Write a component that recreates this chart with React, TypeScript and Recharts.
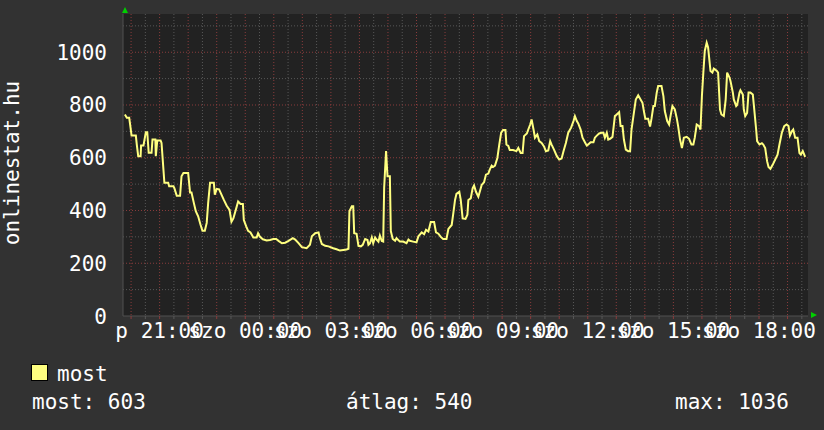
import React from 'react';
import { LineChart, Line, XAxis, YAxis, CartesianGrid } from 'recharts';

const FONT = '"DejaVu Sans Mono", "Liberation Mono", monospace';
const FONT_SIZE = 21;

// minutes since the start of the 24h window (window starts 19:43, Friday)
const timeMinutes = [
  4, 8, 13, 15, 18, 27, 29, 32, 37, 38, 43, 44, 48, 51, 54, 60, 62, 68, 69, 72,
  79, 81, 87, 95, 97, 106, 108, 113, 120, 123, 127, 137, 141, 144, 149, 153, 158, 163, 167, 172,
  176, 179, 183, 191, 193, 197, 202, 207, 212, 218, 224, 228, 232, 238, 242, 247, 252, 254, 259, 263,
  268, 274, 281, 284, 288, 294, 302, 309, 316, 322, 327, 334, 341, 348, 357, 362, 369, 376, 386, 393,
  397, 404, 411, 414, 418, 425, 432, 442, 449, 456, 463, 470, 474, 476, 481, 484, 486, 491, 495, 500,
  504, 509, 514, 516, 519, 523, 526, 530, 533, 537, 540, 544, 547, 549, 553, 556, 561, 563, 567, 572,
  575, 582, 589, 596, 600, 603, 610, 617, 621, 628, 633, 637, 642, 647, 654, 658, 663, 668, 673, 680,
  684, 691, 694, 698, 701, 707,
  710, 714, 720, 724, 726, 731, 735, 738, 742, 747, 750, 754, 759, 763, 768, 771, 775, 778, 782, 787,
  791, 795, 799, 804, 806, 810, 813, 820, 827, 831, 836, 840, 843, 849, 852, 856, 859, 863, 866, 871,
  875, 880, 885, 889, 894, 898, 901, 906, 912, 917, 922, 926, 931, 936, 942, 947, 950, 954, 957, 962,
  966, 971, 975, 978, 983, 989, 992, 996, 1001, 1006, 1010, 1013, 1017, 1020, 1024, 1029, 1034, 1038, 1043, 1046,
  1050, 1053, 1057, 1062, 1066, 1069, 1073, 1078, 1083, 1088, 1092, 1095, 1098, 1104, 1108, 1111, 1115, 1118, 1122, 1125,
  1132, 1136, 1139, 1144, 1148, 1151, 1155, 1160, 1164, 1167, 1171, 1175, 1179, 1185, 1190, 1195, 1199, 1202, 1206, 1211,
  1214, 1217, 1220, 1223, 1227, 1230, 1235, 1239, 1242, 1248, 1251, 1255, 1258, 1263, 1267, 1270, 1275, 1277, 1282, 1284,
  1289, 1291, 1296, 1298, 1303, 1305, 1308, 1312, 1315, 1319, 1324, 1326, 1331, 1333, 1338, 1343, 1346, 1350, 1354, 1357,
  1361, 1366, 1371, 1376, 1380, 1385, 1390, 1395, 1399, 1402, 1406, 1409, 1413, 1418, 1422, 1425, 1429, 1434,
];

const visitors = [
  764, 752, 752, 726, 684, 684, 650, 606, 606, 646, 646, 656, 697, 697, 619, 619, 669, 669, 606, 665,
  665, 656, 505, 505, 492, 492, 485, 456, 456, 530, 542, 542, 468, 468, 428, 397, 378, 346, 323, 323,
  353, 428, 505, 505, 460, 482, 480, 460, 440, 418, 402, 357, 370, 408, 434, 425, 425, 364, 340, 323,
  317, 298, 298, 314, 300, 291, 286, 288, 292, 292, 285, 276, 278, 285, 295, 290, 276, 261, 257, 270,
  302, 314, 317, 295, 273, 266, 264, 257, 253, 248, 250, 252, 255, 397, 416, 416, 314, 312, 266, 264,
  270, 292, 288, 270, 275, 298, 276, 298, 290, 282, 305, 284, 282, 486, 625, 530, 530, 322, 292, 285,
  295, 282, 282, 276, 290, 285, 282, 279, 302, 317, 310, 327, 320, 356, 356, 317, 312, 300, 292, 292,
  330, 345, 384, 440, 463, 471,
  440, 370, 368, 384, 440, 446, 484, 495, 471, 452, 471, 497, 507, 536, 540, 555, 570, 565, 570, 599,
  650, 695, 705, 705, 650, 645, 629, 629, 625, 637, 618, 618, 682, 692, 707, 726, 745, 707, 676, 688,
  663, 656, 643, 625, 628, 663, 650, 631, 606, 593, 597, 625, 656, 695, 714, 739, 758, 739, 730, 707,
  676, 659, 646, 650, 659, 659, 676, 684, 692, 695, 695, 676, 695, 669, 672, 679, 758, 764, 773, 720,
  720, 669, 631, 625, 625, 707, 758, 821, 837, 821, 808, 777, 748, 748, 718, 748, 796, 796, 847, 872,
  872, 834, 777, 739, 726, 758, 796, 783, 751, 720, 669, 637, 676, 679, 672, 650, 650, 676, 726, 720,
  707, 834, 923, 1005, 1036, 1018, 929, 923, 938, 930, 923, 783, 764, 758, 821, 923, 904, 891, 847, 821,
  796, 800, 847, 856, 840, 783, 758, 770, 847, 847, 840, 802, 707, 663, 650, 655, 650, 637, 587, 565,
  558, 574, 593, 612, 650, 695, 720, 726, 720, 684, 700, 707, 676, 676, 618, 612, 625, 603,
];

const xLabelMinutes = [77, 257, 437, 617, 797, 977, 1157, 1337];
const xLabels = ['p 21:00', 'szo 00:00', 'szo 03:00', 'szo 06:00', 'szo 09:00', 'szo 12:00', 'szo 15:00', 'szo 18:00'];
const halfHourTicks = Array.from({ length: 48 }, (_, i) => 17 + 30 * i);
const hourLines = halfHourTicks.filter((_, i) => i % 2 === 0);
const halfHourLines = halfHourTicks.filter((_, i) => i % 2 === 1);

const yLabelValues = [0, 200, 400, 600, 800, 1000];
const yMajorLines = [200, 400, 600, 800, 1000];
const yMinorLines = [100, 300, 500, 700, 900, 1100];

const legendName = 'most';
const statNow = 'most: 603';
const statAvg = 'átlag: 540';
const statMax = 'max: 1036';
const yTitle = 'onlinestat.hu';

const data = timeMinutes.map((t, i) => ({ t, v: visitors[i] }));

const MAJOR = '#8a3c3c';
const MINOR = '#585858';

const XTick = (props: any) => {
  const { x, y, payload } = props;
  const val = payload.value;
  const isHour = hourLines.includes(val);
  const idx = xLabelMinutes.indexOf(val);
  return (
    <g>
      <line x1={x} x2={x} y1={y} y2={y + 3} stroke={isHour ? MAJOR : MINOR} />
      {idx >= 0 && (
        <text x={x} y={y + 22} textAnchor="middle" fill="#ffffff" fontFamily={FONT} fontSize={FONT_SIZE}>
          {xLabels[idx]}
        </text>
      )}
    </g>
  );
};

const YTick = (props: any) => {
  const { x, y, payload } = props;
  return (
    <text x={x} y={y + 7.5} textAnchor="end" fill="#ffffff" fontFamily={FONT} fontSize={FONT_SIZE}>
      {payload.value}
    </text>
  );
};

export default function App() {
  return (
    <div style={{ position: 'absolute', left: 0, top: 0, width: 824, height: 430, background: '#323232', overflow: 'hidden' }}>
      <LineChart width={824} height={430} data={data} margin={{ top: 14, right: 16, bottom: 0, left: 0 }}>
        <CartesianGrid fill="#222222" stroke="none" horizontal={false} vertical={false} />
        <CartesianGrid
          horizontalValues={yMinorLines}
          verticalValues={halfHourLines}
          stroke={MINOR}
          strokeDasharray="1 2"
          fill="none"
        />
        <CartesianGrid
          horizontalValues={yMajorLines}
          verticalValues={hourLines}
          stroke={MAJOR}
          strokeDasharray="1 2"
          fill="none"
        />
        <XAxis
          dataKey="t"
          type="number"
          domain={[0, 1440]}
          ticks={halfHourTicks}
          interval={0}
          height={114}
          tickSize={0}
          tickMargin={0}
          tickLine={false}
          axisLine={{ stroke: '#505050' }}
          tick={XTick}
          allowDataOverflow
        />
        <YAxis
          type="number"
          domain={[0, 1145]}
          ticks={yLabelValues}
          interval={0}
          width={123}
          tickSize={0}
          tickMargin={16}
          tickLine={false}
          axisLine={{ stroke: '#505050' }}
          tick={YTick}
          allowDataOverflow
        />
        <Line
          type="linear"
          dataKey="v"
          stroke="#ffff80"
          strokeWidth={2}
          dot={false}
          activeDot={false}
          isAnimationActive={false}
        />
      </LineChart>
      <svg width={824} height={430} style={{ position: 'absolute', left: 0, top: 0, pointerEvents: 'none' }}>
        <polygon points="122,13 128,13 125,7" fill="#00d000" />
        <polygon points="811,312 811,318 817,315" fill="#00d000" />
        <text
          transform="translate(18.5,163) rotate(-90)"
          textAnchor="middle"
          fill="#ffffff"
          fontFamily={FONT}
          fontSize={FONT_SIZE}
        >
          {yTitle}
        </text>
        <rect x={31.5} y={364.5} width={16} height={16} fill="#ffff80" stroke="#000000" />
        <text x={57} y={381} fill="#ffffff" fontFamily={FONT} fontSize={FONT_SIZE}>{legendName}</text>
        <text x={32} y={409} fill="#ffffff" fontFamily={FONT} fontSize={FONT_SIZE}>{statNow}</text>
        <text x={346} y={409} fill="#ffffff" fontFamily={FONT} fontSize={FONT_SIZE}>{statAvg}</text>
        <text x={675} y={409} fill="#ffffff" fontFamily={FONT} fontSize={FONT_SIZE}>{statMax}</text>
      </svg>
    </div>
  );
}
